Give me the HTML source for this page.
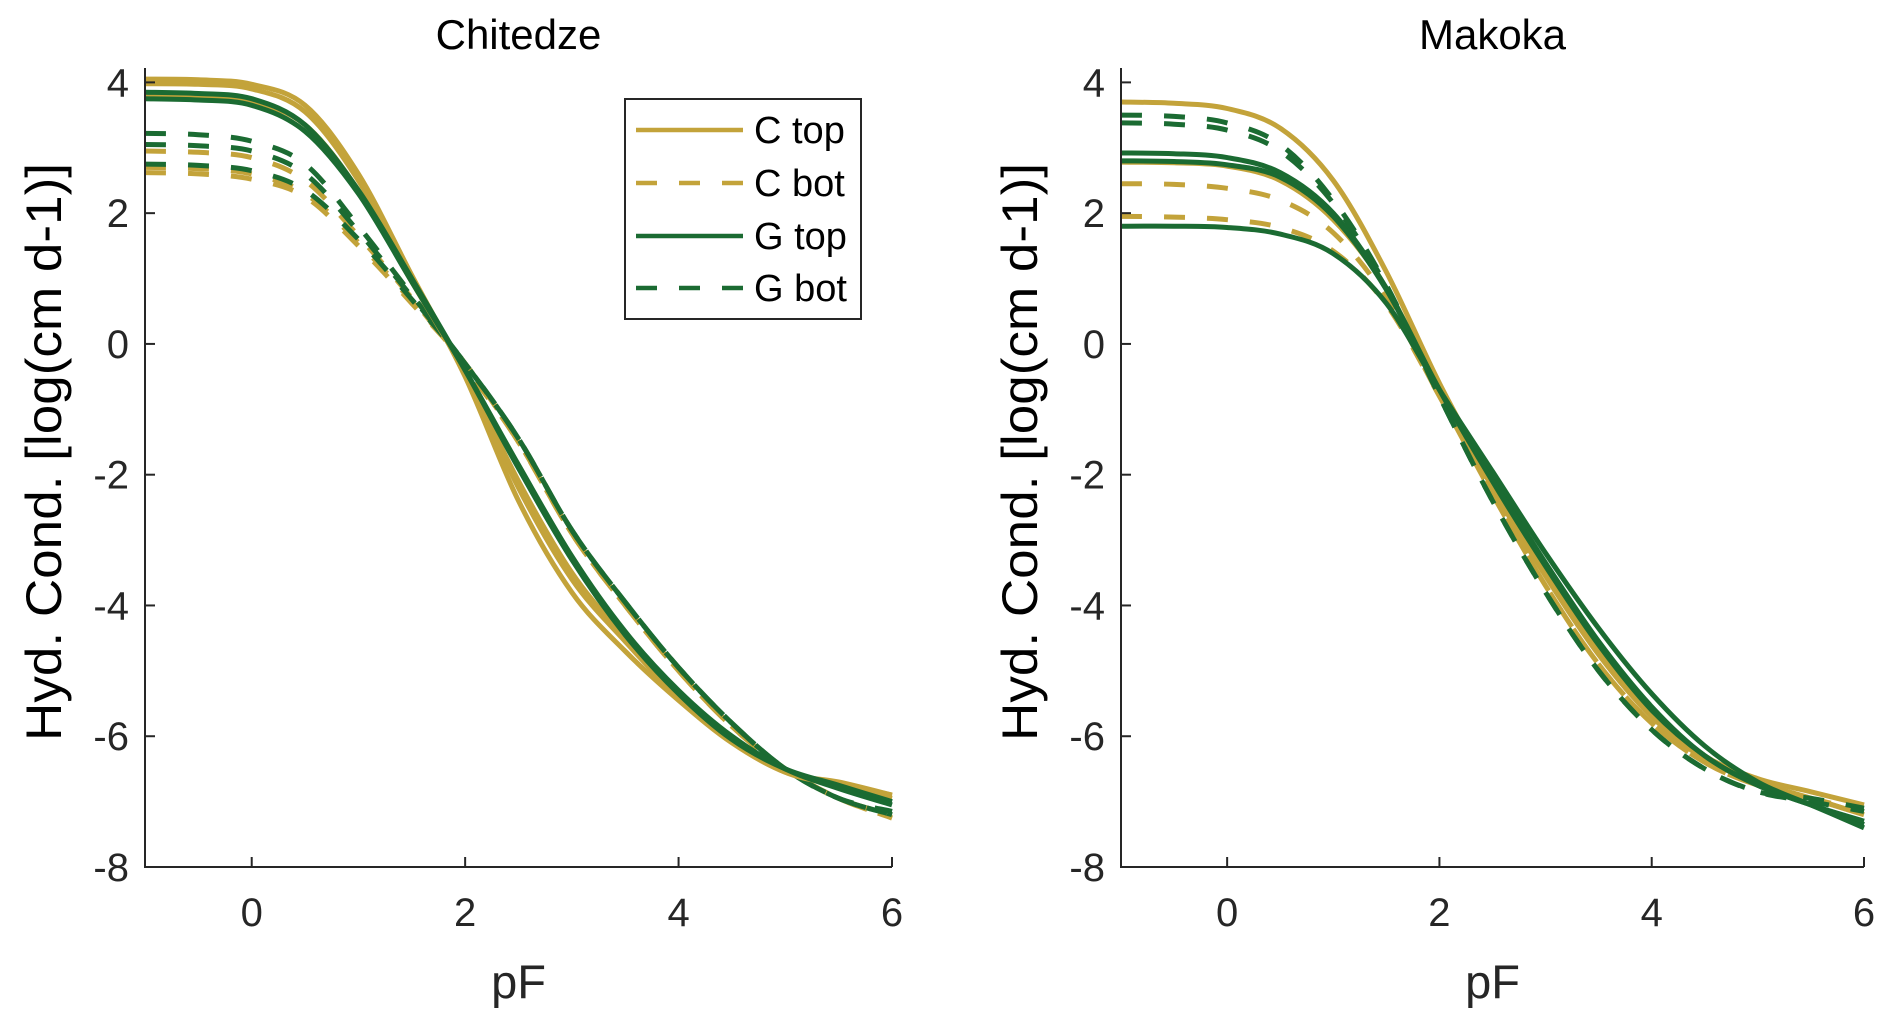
<!DOCTYPE html>
<html><head><meta charset="utf-8"><style>
html,body{margin:0;padding:0;background:#fff;}
svg{display:block;font-family:"Liberation Sans",Arial,sans-serif;}
</style></head><body>
<svg id="fig" width="1892" height="1020" viewBox="0 0 1892 1020" xmlns="http://www.w3.org/2000/svg"></svg>
<script>
const pfGrid = [-1,-0.5,0,0.5,1,1.5,2,2.5,3,3.5,4,4.5,5,5.5,6];
const xTicks = [0,2,4,6];
const yTicks = [4,2,0,-2,-4,-6,-8];
// Chitedze
const chiCTop1 = [4.05,4.04,3.97,3.65,2.6,1.05,-0.5,-2.4,-3.8,-4.7,-5.45,-6.1,-6.55,-6.72,-6.9];
const chiCTop2 = [3.98,3.97,3.9,3.55,2.5,1.0,-0.45,-2.2,-3.6,-4.55,-5.4,-6.05,-6.55,-6.75,-6.95];
const chiCTop3 = [3.78,3.76,3.7,3.35,2.35,0.95,-0.45,-2.1,-3.5,-4.5,-5.4,-6.05,-6.55,-6.7,-6.9];
const chiGTop1 = [3.85,3.83,3.75,3.35,2.35,1.0,-0.4,-1.9,-3.3,-4.45,-5.35,-6.05,-6.5,-6.75,-7.0];
const chiGTop2 = [3.75,3.73,3.65,3.25,2.3,0.95,-0.4,-1.85,-3.25,-4.4,-5.3,-6.0,-6.5,-6.8,-7.05];
const chiCBot1 = [2.95,2.93,2.85,2.5,1.65,0.7,-0.35,-1.5,-2.9,-4.0,-5.0,-5.85,-6.5,-6.95,-7.25];
const chiCBot2 = [2.7,2.68,2.6,2.3,1.55,0.65,-0.3,-1.5,-2.9,-4.0,-5.0,-5.85,-6.5,-6.95,-7.25];
const chiCBot3 = [2.62,2.6,2.52,2.25,1.5,0.62,-0.3,-1.5,-2.9,-4.0,-5.0,-5.85,-6.5,-6.95,-7.2];
const chiGBot1 = [3.22,3.2,3.1,2.75,1.8,0.75,-0.3,-1.45,-2.85,-3.95,-4.95,-5.8,-6.5,-6.95,-7.2];
const chiGBot2 = [3.05,3.03,2.95,2.6,1.72,0.72,-0.3,-1.45,-2.85,-3.95,-4.95,-5.8,-6.5,-6.95,-7.15];
const chiGBot3 = [2.75,2.73,2.65,2.35,1.6,0.68,-0.3,-1.45,-2.85,-3.95,-4.95,-5.8,-6.5,-6.95,-7.2];
// Makoka
const makCTop1 = [3.7,3.68,3.6,3.3,2.5,1.1,-0.6,-2.1,-3.5,-4.7,-5.6,-6.3,-6.65,-6.85,-7.05];
const makCTop2 = [2.78,2.77,2.72,2.5,1.9,0.85,-0.7,-2.2,-3.55,-4.75,-5.7,-6.35,-6.7,-6.95,-7.2];
const makGBot1 = [3.5,3.48,3.38,3.05,2.2,0.9,-0.8,-2.4,-3.8,-5.0,-5.9,-6.5,-6.85,-6.95,-7.1];
const makGBot2 = [3.38,3.36,3.27,2.95,2.15,0.88,-0.8,-2.4,-3.8,-5.0,-5.9,-6.5,-6.85,-7.0,-7.15];
const makGTop1 = [2.92,2.91,2.85,2.62,2.0,0.85,-0.7,-2.1,-3.4,-4.6,-5.6,-6.3,-6.75,-7.05,-7.35];
const makGTop2 = [2.8,2.79,2.74,2.55,1.95,0.83,-0.7,-2.05,-3.35,-4.55,-5.55,-6.3,-6.75,-7.05,-7.3];
const makGTop3 = [1.8,1.8,1.78,1.68,1.38,0.62,-0.7,-1.95,-3.2,-4.35,-5.35,-6.15,-6.7,-7.05,-7.4];
const makCBot1 = [2.45,2.44,2.38,2.2,1.7,0.7,-0.8,-2.3,-3.7,-4.9,-5.8,-6.4,-6.75,-6.95,-7.15];
const makCBot2 = [1.95,1.94,1.9,1.78,1.42,0.6,-0.8,-2.3,-3.7,-4.9,-5.8,-6.4,-6.75,-6.95,-7.2];

const GOLD = "#c3a33a", GREEN = "#1b6b32";
const NS = "http://www.w3.org/2000/svg";
const svg = document.getElementById('fig');
function mk(tag, attrs, parent){const e=document.createElementNS(NS,tag);for(const k in attrs)e.setAttribute(k,attrs[k]);(parent||svg).appendChild(e);return e;}

const panels = [
 {title:"Chitedze", x0:145, x1:892, name:"chitedze",
  series:[[chiCBot1,GOLD,1],[chiCBot2,GOLD,1],[chiCBot3,GOLD,1],[chiGBot1,GREEN,1],[chiGBot2,GREEN,1],[chiGBot3,GREEN,1],
          [chiCTop1,GOLD,0],[chiCTop2,GOLD,0],[chiCTop3,GOLD,0],[chiGTop1,GREEN,0],[chiGTop2,GREEN,0]]},
 {title:"Makoka", x0:1121, x1:1864, name:"makoka",
  series:[[makCTop1,GOLD,0],[makCTop2,GOLD,0],[makCBot1,GOLD,1],[makCBot2,GOLD,1],[makGBot1,GREEN,1],[makGBot2,GREEN,1],
          [makGTop1,GREEN,0],[makGTop2,GREEN,0],[makGTop3,GREEN,0]]}
];
const yTop=68, yBot=867, yMin=-8, yMax=4.22;
function ys(v){return yBot-(v-yMin)/(yMax-yMin)*(yBot-yTop);}

panels.forEach(p=>{
  const xs = v => p.x0 + (v+1)/7*(p.x1-p.x0);
  const g = mk('g',{});
  
  
  const cid='clip-'+p.name;
  const cp=mk('clipPath',{id:cid},g); mk('rect',{x:p.x0,y:yTop-10,width:p.x1-p.x0+10,height:yBot-yTop+10},cp);
  const lines=mk('g',{'clip-path':'url(#'+cid+')'},g);
  p.series.forEach((s,i)=>{
    const pts=pfGrid.map((x,j)=>[xs(x),ys(s[0][j])]);
    let d='M'+pts[0][0]+','+pts[0][1];
    for(let k=0;k<pts.length-1;k++){
      const p0=pts[Math.max(0,k-1)],p1=pts[k],p2=pts[k+1],p3=pts[Math.min(pts.length-1,k+2)];
      const c1=[p1[0]+(p2[0]-p0[0])/6,p1[1]+(p2[1]-p0[1])/6];
      const c2=[p2[0]-(p3[0]-p1[0])/6,p2[1]-(p3[1]-p1[1])/6];
      d+=' C'+c1[0].toFixed(1)+','+c1[1].toFixed(1)+' '+c2[0].toFixed(1)+','+c2[1].toFixed(1)+' '+p2[0].toFixed(1)+','+p2[1].toFixed(1);
    }
    const path=mk('path',{d:d,fill:'none',stroke:s[1],'stroke-width':5},lines);
    if(s[2]) path.setAttribute('stroke-dasharray','21 22');
    
    
  });
  const ax=mk('path',{d:`M${p.x0},${yTop} L${p.x0},${yBot} L${p.x1},${yBot}`,fill:'none',stroke:'#262626','stroke-width':2},g);
  
  
  yTicks.forEach(t=>{
    const y=ys(t);
    mk('line',{x1:p.x0,y1:y,x2:p.x0+10,y2:y,stroke:'#262626','stroke-width':2},g);
    const tx=mk('text',{x:p.x0-16,y:y+14,'text-anchor':'end','font-size':40,fill:'#262626'},g);
    tx.textContent=String(t);
    
    
  });
  xTicks.forEach(t=>{
    const x=xs(t);
    mk('line',{x1:x,y1:yBot,x2:x,y2:yBot-10,stroke:'#262626','stroke-width':2},g);
    const tx=mk('text',{x:x,y:926,'text-anchor':'middle','font-size':40,fill:'#262626'},g);
    tx.textContent=String(t);
    
    
  });
  const cx=(p.x0+p.x1)/2;
  const ti=mk('text',{x:cx,y:49,'text-anchor':'middle','font-size':42,fill:'#000'},g);
  ti.textContent=p.title;
  
  
  const xl=mk('text',{x:cx,y:998,'text-anchor':'middle','font-size':47,fill:'#262626'},g);
  xl.textContent='pF';
  
  
  const ylx=p.x0-84;
  const yl=mk('text',{x:ylx,y:452,'text-anchor':'middle','font-size':50,fill:'#000',transform:`rotate(-90 ${ylx} 452)`,textLength:578,lengthAdjust:'spacingAndGlyphs'},g);
  yl.textContent='Hyd. Cond. [log(cm d-1)]';
  
  
});
</script>
<svg style="position:absolute;left:0;top:0" width="1892" height="1020">
  <g font-family="Liberation Sans, Arial, sans-serif">
    <rect x="625" y="99" width="236" height="220" fill="#fff" stroke="#262626" stroke-width="2"/>
    <g><line x1="636" y1="130" x2="743" y2="130" stroke="#c3a33a" stroke-width="4.5"/><text x="754" y="143" font-size="38">C top</text></g>
    <g><line x1="636" y1="183" x2="743" y2="183" stroke="#c3a33a" stroke-width="4.5" stroke-dasharray="21 22"/><text x="754" y="196" font-size="38">C bot</text></g>
    <g><line x1="636" y1="236" x2="743" y2="236" stroke="#1b6b32" stroke-width="4.5"/><text x="754" y="249" font-size="38">G top</text></g>
    <g><line x1="636" y1="288" x2="743" y2="288" stroke="#1b6b32" stroke-width="4.5" stroke-dasharray="21 22"/><text x="754" y="301" font-size="38">G bot</text></g>
  </g>
</svg>
</body></html>
